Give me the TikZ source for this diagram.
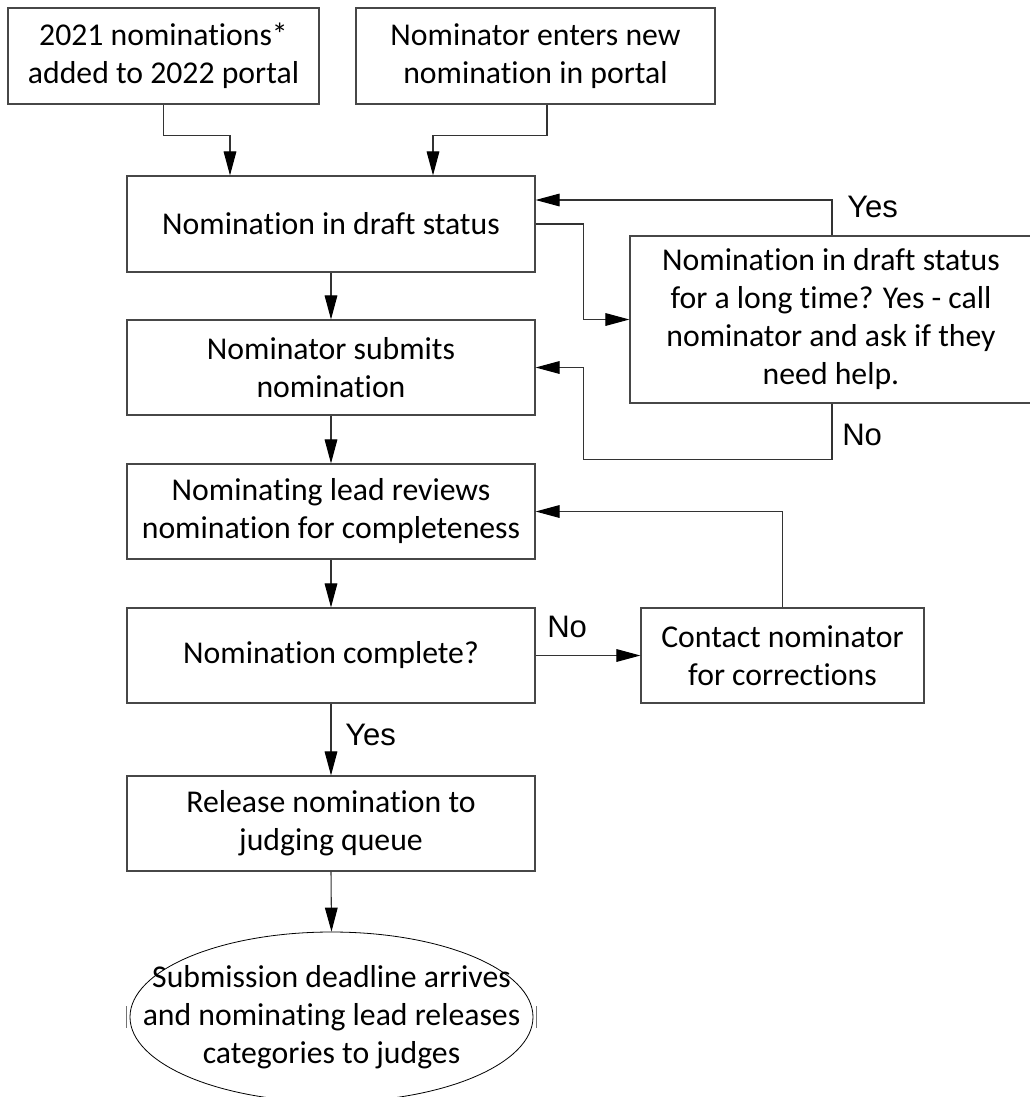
\documentclass[tikz,border=0pt]{standalone}
\usepackage{fontspec}
\setmainfont{Carlito}[RawFeature={-liga;-clig;-dlig}]
\newfontfamily\labfont{Liberation Sans}
\usetikzlibrary{arrows.meta,shapes.geometric,calc}
\begin{document}
\begin{tikzpicture}[x=0.75pt,y=-0.75pt,
  fbox/.style={draw=black!72,line width=0.9pt,rectangle,inner sep=0pt,align=center,
    font=\fontsize{23.8pt}{28.5pt}\selectfont},
  txt/.style={inner sep=0pt,align=center,font=\fontsize{23.8pt}{28.5pt}\selectfont},
  arr/.style={draw=black!80,line width=0.8pt,-{Triangle[length=18pt,width=9.5pt,color=black]}},
  lab/.style={font=\labfont\fontsize{23.3pt}{28pt}\selectfont,inner sep=0pt,anchor=base west}]
\useasboundingbox[fill=white] (0,0) rectangle (1030,1097);
% nodes
\node[fbox,minimum width=311*0.75pt,minimum height=96*0.75pt] (b1) at (163.5,56) {2021 nominations*\\added to 2022 portal};
\node[fbox,minimum width=359*0.75pt,minimum height=96*0.75pt] (b2) at (535.5,56) {Nominator enters new\\nomination in portal};
\node[fbox,minimum width=408*0.75pt,minimum height=96*0.75pt] (draft) at (331,224) {Nomination in draft status};
\node[fbox,minimum width=402*0.75pt,minimum height=167*0.75pt] (rbox) at (831,319.5) {Nomination in draft status\\for a long time? Yes - call\\nominator and ask if they\\need help.};
\node[fbox,minimum width=408*0.75pt,minimum height=95*0.75pt] (submits) at (331,367.5) {Nominator submits\\nomination};
\node[fbox,minimum width=408*0.75pt,minimum height=95*0.75pt] (reviews) at (331,511.5) {Nominating lead reviews\\nomination for completeness};
\node[fbox,minimum width=408*0.75pt,minimum height=95*0.75pt] (complete) at (331,655.5) {Nomination complete?};
\node[fbox,minimum width=283*0.75pt,minimum height=95*0.75pt] (contact) at (782.5,655.5) {Contact nominator\\for corrections};
\node[fbox,minimum width=408*0.75pt,minimum height=95*0.75pt] (release) at (331,823.5) {Release nomination to\\judging queue};
\node[draw=black,line width=0.6pt,ellipse,inner sep=0pt,minimum width=403*0.75pt,minimum height=170*0.75pt] (endn) at (331.5,1017) {};
\node[txt] (endtxt) at (endn.center) {Submission deadline arrives\\and nominating lead releases\\categories to judges};
% small marks beside the ellipse
\draw[black!55,line width=0.6pt] ($(endn.west)+(-3,-11)$) -- ($(endn.west)+(-3,11)$);
\draw[black!55,line width=0.6pt] ($(endn.east)+(3,-11)$) -- ($(endn.east)+(3,11)$);
% connectors
\draw[arr] (b1.south) -- ++(0,31) -| ([xshift=-101*0.75pt]draft.north);
\draw[arr] ([xshift=11.5*0.75pt]b2.south) -- ++(0,31) -| ([xshift=102*0.75pt]draft.north);
\draw[arr] (draft.south) -- (submits.north);
\draw[arr] (submits.south) -- (reviews.north);
\draw[arr] (reviews.south) -- (complete.north);
\draw[arr] (complete.south) -- (release.north);
\draw[arr] (release.south) -- (endn.north);
\draw[arr] ([xshift=0.75pt]rbox.north) |- ([yshift=18pt]draft.east);
\draw[arr] (draft.east) -- ++(48,0) |- (rbox.west);
\draw[arr] ([xshift=0.75pt]rbox.south) -- ++(0,56) -| ($(submits.east)+(48,0)$) -- (submits.east);
\draw[arr] (complete.east) -- (contact.west);
\draw[arr] (contact.north) |- (reviews.east);
% labels
\node[lab] (yes1) at (847,217) {Yes};
\node[lab] (no1) at (842,445) {No};
\node[lab] (no2) at (547,637) {No};
\node[lab] (yes2) at (345,745) {Yes};
\end{tikzpicture}
\end{document}
